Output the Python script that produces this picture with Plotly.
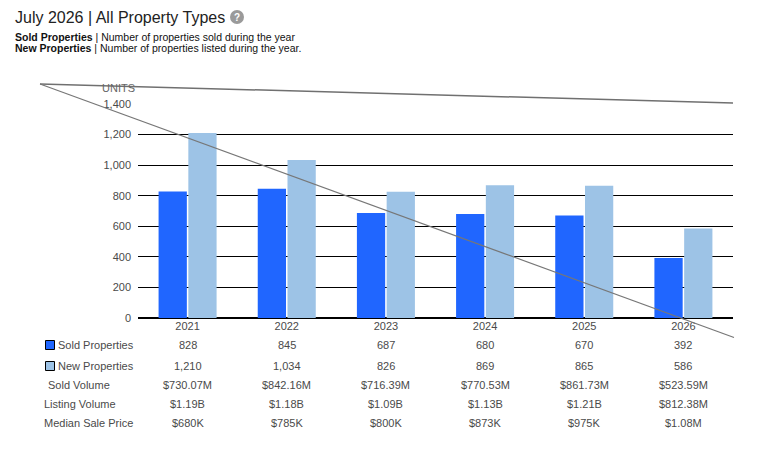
import plotly.graph_objects as go

years = ["2021", "2022", "2023", "2024", "2025", "2026"]
sold = [828, 845, 687, 680, 670, 392]
new = [1210, 1034, 826, 869, 865, 586]
sold_volume = ["$730.07M", "$842.16M", "$716.39M", "$770.53M", "$861.73M", "$523.59M"]
listing_volume = ["$1.19B", "$1.18B", "$1.09B", "$1.13B", "$1.21B", "$812.38M"]
median_price = ["$680K", "$785K", "$800K", "$873K", "$975K", "$1.08M"]

SOLD_COLOR = "#2066FF"
NEW_COLOR = "#9DC3E6"
TXT = "#4a4a4a"
FONT = "Liberation Sans, Arial, sans-serif"

# plot box in pixels
W, H = 767, 452
L, R, T, B = 138, 34, 104, 134
PW = W - L - R
PH = H - T - B


def px_x(px):
    return (px - L) / PW


def px_y(py):
    return (H - B - py) / PH


fig = go.Figure()

fig.add_trace(go.Bar(x=years, y=sold, name="Sold Properties",
                     marker=dict(color=SOLD_COLOR, line_width=0)))
fig.add_trace(go.Bar(x=years, y=new, name="New Properties",
                     marker=dict(color=NEW_COLOR, line_width=0)))

annotations = []

# title + description
annotations.append(dict(xref="paper", yref="paper", x=px_x(13), y=px_y(17),
                        xanchor="left", yanchor="middle", showarrow=False,
                        text="July 2026 | All Property Types",
                        font=dict(family=FONT, size=16, color="#222222")))
annotations.append(dict(xref="paper", yref="paper", x=px_x(237), y=px_y(17.5),
                        xanchor="center", yanchor="middle", showarrow=False,
                        text="<b>?</b>", font=dict(family=FONT, size=10, color="white")))
annotations.append(dict(xref="paper", yref="paper", x=px_x(13), y=px_y(37),
                        xanchor="left", yanchor="middle", showarrow=False,
                        text="<b>Sold Properties</b> | Number of properties sold during the year",
                        font=dict(family=FONT, size=10.5, color="#111111")))
annotations.append(dict(xref="paper", yref="paper", x=px_x(13), y=px_y(48),
                        xanchor="left", yanchor="middle", showarrow=False,
                        text="<b>New Properties</b> | Number of properties listed during the year.",
                        font=dict(family=FONT, size=10.5, color="#111111")))

# axis unit label
annotations.append(dict(xref="paper", yref="paper", x=px_x(137), y=px_y(88),
                        xanchor="right", yanchor="middle", showarrow=False,
                        text="UNITS", font=dict(family=FONT, size=11, color="#666666")))

# table under the chart
rows = [
    ("Sold Properties", [f"{v:,}" for v in sold], 345, 56),
    ("New Properties", [f"{v:,}" for v in new], 366, 56),
    ("Sold Volume", sold_volume, 385, 46),
    ("Listing Volume", listing_volume, 404, 42),
    ("Median Sale Price", median_price, 423, 42),
]
for label, vals, ry, lx in rows:
    annotations.append(dict(xref="paper", yref="paper", x=px_x(lx), y=px_y(ry),
                            xanchor="left", yanchor="middle", showarrow=False,
                            text=label, font=dict(family=FONT, size=11, color=TXT)))
    # category index as x, numeric-looking names would be read as positions
    for i, v in enumerate(vals):
        annotations.append(dict(xref="x", yref="paper", x=i, y=px_y(ry),
                                xanchor="center", yanchor="middle", showarrow=False,
                                text=v, font=dict(family=FONT, size=11, color=TXT)))

shapes = [
    # legend swatches
    dict(type="rect", xref="paper", yref="paper", x0=px_x(45.5), x1=px_x(54.5),
         y0=px_y(349.5), y1=px_y(340.5), fillcolor=SOLD_COLOR, line=dict(color="black", width=1)),
    dict(type="rect", xref="paper", yref="paper", x0=px_x(45.5), x1=px_x(54.5),
         y0=px_y(370.5), y1=px_y(361.5), fillcolor=NEW_COLOR, line=dict(color="black", width=1)),
    # help icon
    dict(type="circle", xref="paper", yref="paper", x0=px_x(230), x1=px_x(244),
         y0=px_y(24), y1=px_y(10), fillcolor="#9a9a9a", line_width=0),
    # stray gray strokes crossing the chart
    dict(type="line", xref="paper", yref="paper", x0=px_x(40), y0=px_y(84),
         x1=px_x(733), y1=px_y(103), line=dict(color="#707070", width=1.5)),
    dict(type="line", xref="paper", yref="paper", x0=px_x(40), y0=px_y(84),
         x1=px_x(734), y1=px_y(337.5), line=dict(color="#777777", width=1.2)),
]

fig.update_layout(
    width=W, height=H,
    margin=dict(l=L, r=R, t=T, b=B, pad=0),
    paper_bgcolor="white", plot_bgcolor="white",
    barmode="group", bargap=0.4, bargroupgap=0.05,
    showlegend=False,
    font=dict(family=FONT, size=11, color=TXT),
    xaxis=dict(type="category", range=[-0.5, 5.5], showgrid=False, showline=False,
               zeroline=False, ticks="", tickfont=dict(family=FONT, size=11, color=TXT)),
    yaxis=dict(range=[0, 1400], dtick=200, tickformat=",", showgrid=True,
               gridcolor="black", gridwidth=1, zeroline=True, zerolinecolor="black",
               zerolinewidth=1.5, showline=False, ticks="", ticklabelstandoff=6,
               tickfont=dict(family=FONT, size=11, color=TXT)),
    annotations=annotations,
    shapes=shapes,
)

fig.write_html("out.html", config={"displayModeBar": False},
               post_script="document.body.style.margin='0';")
